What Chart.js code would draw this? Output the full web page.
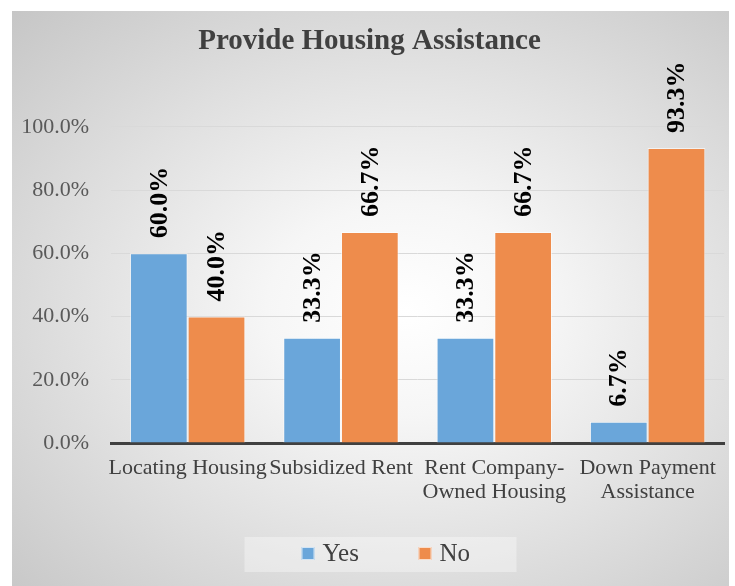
<!DOCTYPE html>
<html>
<head>
<meta charset="utf-8">
<script src="https://cdn.jsdelivr.net/npm/chart.js@4"></script>
<style>
    html, body { margin: 0; padding: 0; background: #ffffff; }
    #frame {
        position: absolute;
        left: 12px;
        top: 11px;
        width: 717px;
        height: 575px;
        background: radial-gradient(ellipse at 55% 52%, #ffffff 0%, #f6f6f6 25%, #c6c6c6 100%);
    }
</style>
</head>
<body>
<div id="frame">
    <canvas id="housingChart" width="717" height="575"></canvas>
</div>
<script>
// chart data
const categories = [
    ['Locating Housing'],
    ['Subsidized Rent'],
    ['Rent Company-', 'Owned Housing'],
    ['Down Payment', 'Assistance']
];
const yesValues = [60.0, 33.3, 33.3, 6.7];
const noValues = [40.0, 66.7, 66.7, 93.3];
const yTicks = [0, 20, 40, 60, 80, 100];

const serif = '"Liberation Serif", "Times New Roman", serif';

// Function to draw rotated value labels above each bar
const valueLabels = {
    id: 'valueLabels',
    afterDatasetsDraw(chart) {
        const ctx = chart.ctx;
        ctx.save();
        ctx.font = 'bold 26px ' + serif;
        ctx.fillStyle = '#000000';
        ctx.textAlign = 'left';
        ctx.textBaseline = 'middle';
        chart.data.datasets.forEach((ds, i) => {
            chart.getDatasetMeta(i).data.forEach((bar, j) => {
                ctx.save();
                ctx.translate(bar.x + 1, bar.y - 15);
                ctx.rotate(-Math.PI / 2);
                ctx.fillText(ds.data[j].toFixed(1) + '%', 0, 0);
                ctx.restore();
            });
        });
        ctx.restore();
    }
};

// Function to draw the legend inside its light box
const boxedLegend = {
    id: 'boxedLegend',
    afterDraw(chart) {
        const ctx = chart.ctx;
        const centerX = chart.width / 2 + 10;
        const midY = 542;
        ctx.save();
        ctx.fillStyle = 'rgba(255, 255, 255, 0.35)';
        ctx.fillRect(centerX - 136, midY - 16, 272, 35);
        ctx.font = '25px ' + serif;
        ctx.textBaseline = 'middle';
        ctx.textAlign = 'left';
        let x = centerX - 79;
        chart.data.datasets.forEach(ds => {
            ctx.fillStyle = ds.backgroundColor;
            ctx.fillRect(x, midY - 6, 13, 13);
            ctx.strokeStyle = 'rgba(255, 255, 255, 0.7)';
            ctx.lineWidth = 1;
            ctx.strokeRect(x + 0.5, midY - 5.5, 12, 12);
            ctx.fillStyle = '#404040';
            ctx.fillText(ds.label, x + 21, midY + 1);
            x += 117;
        });
        ctx.restore();
    }
};

const ctx = document.getElementById('housingChart').getContext('2d');
const housingChart = new Chart(ctx, {
    type: 'bar',
    data: {
        labels: categories,
        datasets: [{
            label: 'Yes',
            data: yesValues,
            backgroundColor: '#6aa6da',
            borderColor: 'rgba(255, 255, 255, 0.6)',
            borderWidth: 1
        },
        {
            label: 'No',
            data: noValues,
            backgroundColor: '#ee8c4c',
            borderColor: 'rgba(255, 255, 255, 0.6)',
            borderWidth: 1
        }]
    },
    options: {
        responsive: false,
        animation: false,
        layout: {
            padding: { left: 0, right: 2, top: 0, bottom: 73 }
        },
        datasets: {
            bar: {
                categoryPercentage: 0.753,
                barPercentage: 1.0
            }
        },
        plugins: {
            legend: { display: false },
            tooltip: { enabled: false },
            title: {
                display: true,
                text: 'Provide Housing Assistance',
                color: '#404040',
                font: { family: serif, size: 29, weight: 'bold', lineHeight: 1.2 },
                padding: { top: 13, bottom: 68 }
            }
        },
        scales: {
            x: {
                grid: { display: false, drawTicks: false },
                border: { display: true, color: '#404040', width: 3 },
                ticks: {
                    color: '#404040',
                    font: { family: serif, size: 22, lineHeight: 1.1 },
                    padding: 13,
                    maxRotation: 0,
                    autoSkip: false
                },
                afterFit(scale) { scale.height = 70; }
            },
            y: {
                min: 0,
                max: 100,
                afterBuildTicks(scale) {
                    scale.ticks = yTicks.map(v => ({ value: v }));
                },
                grid: { color: '#d9d9d9', lineWidth: 1, drawTicks: false },
                border: { display: false },
                ticks: {
                    color: '#595959',
                    font: { family: serif, size: 22 },
                    padding: 22,
                    callback: v => v.toFixed(1) + '%'
                },
                afterFit(scale) { scale.width = 99; }
            }
        }
    },
    plugins: [valueLabels, boxedLegend]
});
</script>
</body>
</html>
